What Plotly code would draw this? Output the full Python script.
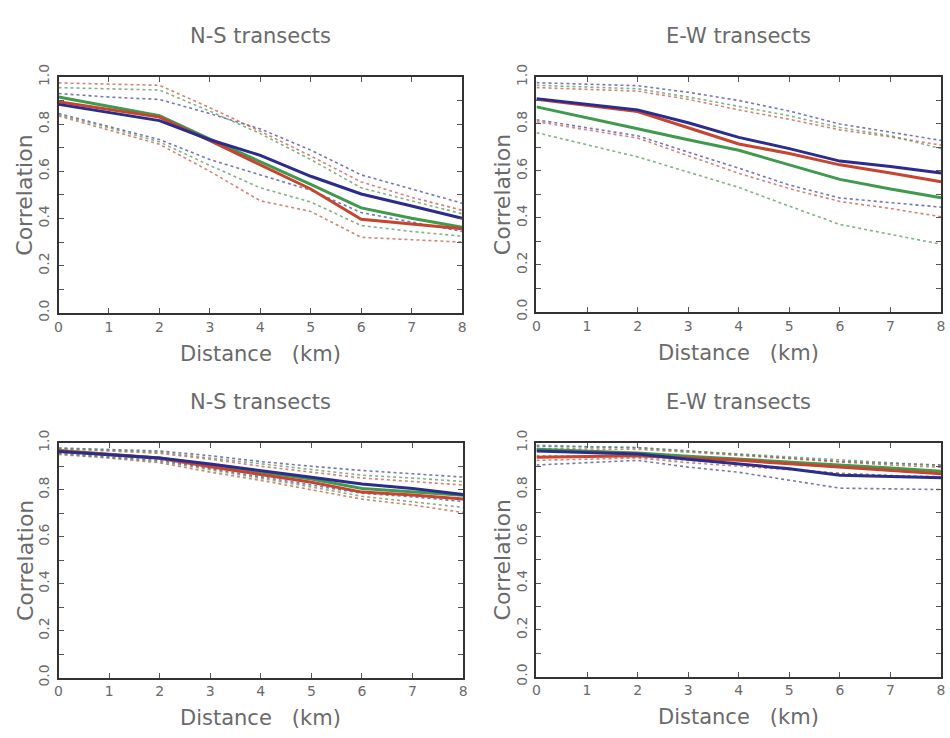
import plotly.graph_objects as go

distance = [0, 1, 2, 3, 4, 5, 6, 7, 8]
y_ticks = [0.0, 0.2, 0.4, 0.6, 0.8, 1.0]

panel_titles = ["N-S transects", "E-W transects", "N-S transects", "E-W transects"]

# Top-left panel (N-S)
tl_blue = [0.884, 0.850, 0.815, 0.734, 0.668, 0.579, 0.504, 0.453, 0.401]
tl_red = [0.895, 0.862, 0.830, 0.730, 0.627, 0.525, 0.397, 0.378, 0.356]
tl_green = [0.915, 0.876, 0.836, 0.737, 0.641, 0.545, 0.445, 0.401, 0.363]
tl_blue_hi = [0.930, 0.915, 0.905, 0.845, 0.780, 0.690, 0.585, 0.525, 0.465]
tl_red_hi = [0.975, 0.970, 0.965, 0.870, 0.770, 0.665, 0.555, 0.490, 0.435]
tl_green_hi = [0.955, 0.950, 0.945, 0.855, 0.760, 0.650, 0.530, 0.475, 0.420]
tl_blue_lo = [0.845, 0.790, 0.735, 0.650, 0.585, 0.520, 0.425, 0.385, 0.345]
tl_red_lo = [0.835, 0.775, 0.715, 0.600, 0.475, 0.430, 0.320, 0.310, 0.300]
tl_green_lo = [0.840, 0.785, 0.725, 0.625, 0.530, 0.470, 0.370, 0.345, 0.325]

# Top-right panel (E-W)
tr_blue = [0.908, 0.884, 0.860, 0.805, 0.743, 0.695, 0.642, 0.619, 0.591]
tr_red = [0.905, 0.879, 0.853, 0.784, 0.715, 0.674, 0.626, 0.591, 0.554]
tr_green = [0.873, 0.825, 0.780, 0.733, 0.688, 0.626, 0.564, 0.523, 0.486]
tr_blue_hi = [0.976, 0.970, 0.963, 0.935, 0.900, 0.855, 0.800, 0.765, 0.730]
tr_red_hi = [0.955, 0.948, 0.940, 0.905, 0.860, 0.820, 0.775, 0.745, 0.710]
tr_green_hi = [0.965, 0.957, 0.950, 0.915, 0.875, 0.835, 0.785, 0.750, 0.695]
tr_blue_lo = [0.818, 0.785, 0.750, 0.680, 0.612, 0.540, 0.485, 0.465, 0.446]
tr_red_lo = [0.810, 0.775, 0.740, 0.665, 0.590, 0.525, 0.470, 0.440, 0.405]
tr_green_lo = [0.763, 0.710, 0.660, 0.595, 0.530, 0.450, 0.372, 0.330, 0.288]

# Bottom-left panel (N-S)
bl_blue = [0.963, 0.950, 0.935, 0.910, 0.880, 0.853, 0.825, 0.805, 0.780]
bl_red = [0.966, 0.950, 0.934, 0.898, 0.866, 0.832, 0.790, 0.778, 0.761]
bl_green = [0.967, 0.951, 0.935, 0.904, 0.876, 0.846, 0.805, 0.791, 0.777]
bl_blue_hi = [0.978, 0.972, 0.965, 0.945, 0.920, 0.900, 0.882, 0.868, 0.854]
bl_red_hi = [0.975, 0.965, 0.955, 0.930, 0.900, 0.875, 0.850, 0.835, 0.820]
bl_green_hi = [0.976, 0.968, 0.960, 0.935, 0.910, 0.885, 0.862, 0.850, 0.835]
bl_blue_lo = [0.955, 0.940, 0.925, 0.890, 0.855, 0.820, 0.785, 0.770, 0.750]
bl_red_lo = [0.950, 0.935, 0.915, 0.875, 0.840, 0.800, 0.760, 0.735, 0.703]
bl_green_lo = [0.953, 0.937, 0.920, 0.885, 0.850, 0.812, 0.772, 0.750, 0.725]

# Bottom-right panel (E-W)
br_blue = [0.965, 0.960, 0.952, 0.930, 0.910, 0.889, 0.861, 0.855, 0.850]
br_red = [0.938, 0.942, 0.945, 0.935, 0.925, 0.910, 0.896, 0.882, 0.868]
br_green = [0.972, 0.964, 0.956, 0.943, 0.931, 0.918, 0.906, 0.892, 0.878]
br_blue_hi = [0.985, 0.983, 0.980, 0.965, 0.950, 0.935, 0.920, 0.912, 0.905]
br_red_hi = [0.975, 0.975, 0.972, 0.960, 0.945, 0.932, 0.918, 0.905, 0.895]
br_green_hi = [0.990, 0.985, 0.978, 0.965, 0.952, 0.940, 0.927, 0.915, 0.902]
br_blue_lo = [0.905, 0.915, 0.925, 0.896, 0.874, 0.840, 0.806, 0.803, 0.800]
br_red_lo = [0.925, 0.930, 0.935, 0.915, 0.900, 0.885, 0.870, 0.860, 0.850]
br_green_lo = [0.945, 0.943, 0.940, 0.925, 0.910, 0.890, 0.868, 0.860, 0.855]

panels = [
    (tl_blue, tl_red, tl_green, [tl_blue_hi, tl_red_hi, tl_green_hi, tl_blue_lo, tl_red_lo, tl_green_lo]),
    (tr_blue, tr_red, tr_green, [tr_blue_hi, tr_red_hi, tr_green_hi, tr_blue_lo, tr_red_lo, tr_green_lo]),
    (bl_blue, bl_red, bl_green, [bl_blue_hi, bl_red_hi, bl_green_hi, bl_blue_lo, bl_red_lo, bl_green_lo]),
    (br_blue, br_red, br_green, [br_blue_hi, br_red_hi, br_green_hi, br_blue_lo, br_red_lo, br_green_lo]),
]

W, H = 950, 738
SOLID = {"blue": "#2c2c8c", "red": "#c9442e", "green": "#409a4e"}
DOT = ["#4a4a9a", "#c85a4a", "#5a9a5a", "#4a4a9a", "#c85a4a", "#5a9a5a"]
TXT = "#6a6a6a"
FONT = "DejaVu Sans"

# panel boxes in pixels: (x0, x1, y0_top, y1_bottom)
boxes = [(55, 462, 66, 309), (537, 945, 66, 308), (55, 463, 443, 685), (537, 945, 443, 684)]

fig = go.Figure()
annotations = []
layout = {}
for i, (b, r, g, dots) in enumerate(panels):
    n = "" if i == 0 else str(i + 1)
    xa, ya = "x" + n, "y" + n
    for arr, col in zip(dots, DOT):
        fig.add_trace(go.Scatter(x=distance, y=arr, mode="lines", xaxis=xa, yaxis=ya,
                                 line=dict(color=col, width=1.6, dash="dot"), opacity=0.75,
                                 showlegend=False, hoverinfo="skip"))
    for arr, key in ((g, "green"), (r, "red"), (b, "blue")):
        fig.add_trace(go.Scatter(x=distance, y=arr, mode="lines", xaxis=xa, yaxis=ya,
                                 line=dict(color=SOLID[key], width=3),
                                 showlegend=False))
    x0, x1, yt, yb = boxes[i]
    layout["xaxis" + n] = dict(
        domain=[x0 / W, x1 / W], anchor=ya, range=[0, 8], dtick=1, tick0=0,
        showline=True, linewidth=2, linecolor="#333333", mirror="ticks",
        ticks="inside", ticklen=5, tickcolor="#555555", tickwidth=1,
        showgrid=False, zeroline=False,
        tickfont=dict(family=FONT, size=14, color=TXT))
    layout["yaxis" + n] = dict(
        domain=[1 - yb / H, 1 - yt / H], anchor=xa, range=[0, 1],
        tickvals=y_ticks, tickformat=".1f", tickangle=-90,
        showline=True, linewidth=2, linecolor="#333333", mirror="ticks",
        ticks="inside", ticklen=5, tickcolor="#555555", tickwidth=1,
        minor=dict(dtick=0.1, ticks="inside", ticklen=5, tickcolor="#555555"),
        showgrid=False, zeroline=False, ticklabelstandoff=2,
        tickfont=dict(family=FONT, size=14, color=TXT))
    cx = (x0 + x1) / 2 / W
    annotations.append(dict(text=panel_titles[i], x=cx, y=1 - (yt - 42) / H, xref="paper", yref="paper",
                            showarrow=False, font=dict(family=FONT, size=21, color=TXT),
                            xanchor="center", yanchor="middle"))
    annotations.append(dict(text="Distance\u00a0\u00a0\u00a0(km)", x=cx, y=1 - (yb + 42) / H,
                            xref="paper", yref="paper", showarrow=False,
                            font=dict(family=FONT, size=21, color=TXT),
                            xanchor="center", yanchor="middle"))
    annotations.append(dict(text="Correlation", x=(x0 - 34) / W, y=1 - (yt + yb) / 2 / H,
                            xref="paper", yref="paper", showarrow=False, textangle=-90,
                            font=dict(family=FONT, size=22, color=TXT),
                            xanchor="center", yanchor="middle"))

fig.update_layout(**layout)
fig.update_layout(width=W, height=H, margin=dict(l=0, r=0, t=0, b=0),
                  paper_bgcolor="white", plot_bgcolor="white",
                  annotations=annotations, showlegend=False)

fig.write_html("out.html")
